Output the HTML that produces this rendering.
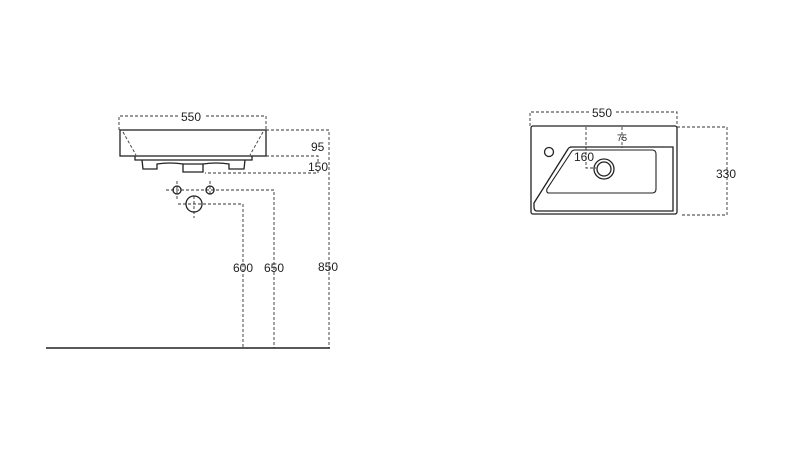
<!DOCTYPE html><html><head><style>body{margin:0;background:#fff}svg{display:block}text{font-family:"Liberation Sans",sans-serif;fill:#222}</style></head><body>
<svg width="800" height="449" viewBox="0 0 800 449">
<g fill="none" stroke="#333" stroke-width="0.9" stroke-dasharray="3,2">
<path d="M119,130V116H180M206,116H266V130"/>
<path d="M266,130H329V348"/>
<path d="M266,156H318V162M318,170V173H205"/>
<path d="M123,132L136,155M263,132L250,155"/>
<path d="M166,190H274V348M178,204H243V348"/>
<path d="M177,181V200M210,181V196M194,196V218"/>
<path d="M530,126V112H590M616,112H677V126"/>
<path d="M677,127H727V215H680"/>
<path d="M586,127V168H596M622,127V148"/>
</g>
<g fill="none" stroke="#222" stroke-width="1.3">
<rect x="120" y="130" width="146" height="26"/>
<path d="M135,156V160H252V156"/>
<path d="M142,160L143,169H157V164Q170,162 183,164V172H203V164Q216,162 229,164V169H244L245,160"/>
<path d="M183,164H203"/>
<circle cx="177" cy="190" r="4"/><circle cx="210" cy="190" r="4"/>
<circle cx="194" cy="204" r="8"/>
<path d="M46,348H330" stroke-width="1.5"/>
<rect x="531" y="126" width="146" height="88" rx="2"/>
<path d="M570,147H673V211H537Q534,211 534,207V203L568,149Q569,147 572,147Z"/>
<path d="M574,150H652Q656,150 656,154V189Q656,193 652,193H549Q546,193 547,189L572,151Z" stroke-width="1.1"/>
<circle cx="549" cy="152" r="4.5"/>
<circle cx="604" cy="169" r="10"/><circle cx="604" cy="169" r="7"/>
</g>
<g font-size="12">
<text x="181" y="121">550</text>
<text x="311" y="151">95</text>
<text x="308" y="171">150</text>
<text x="233" y="272">600</text>
<text x="264" y="272">650</text>
<text x="318" y="271">850</text>
<text x="592" y="117">550</text>
<text x="574" y="161">160</text>
<text x="716" y="178">330</text>
<text x="617" y="141" font-size="9">75</text>
</g>
</svg></body></html>
